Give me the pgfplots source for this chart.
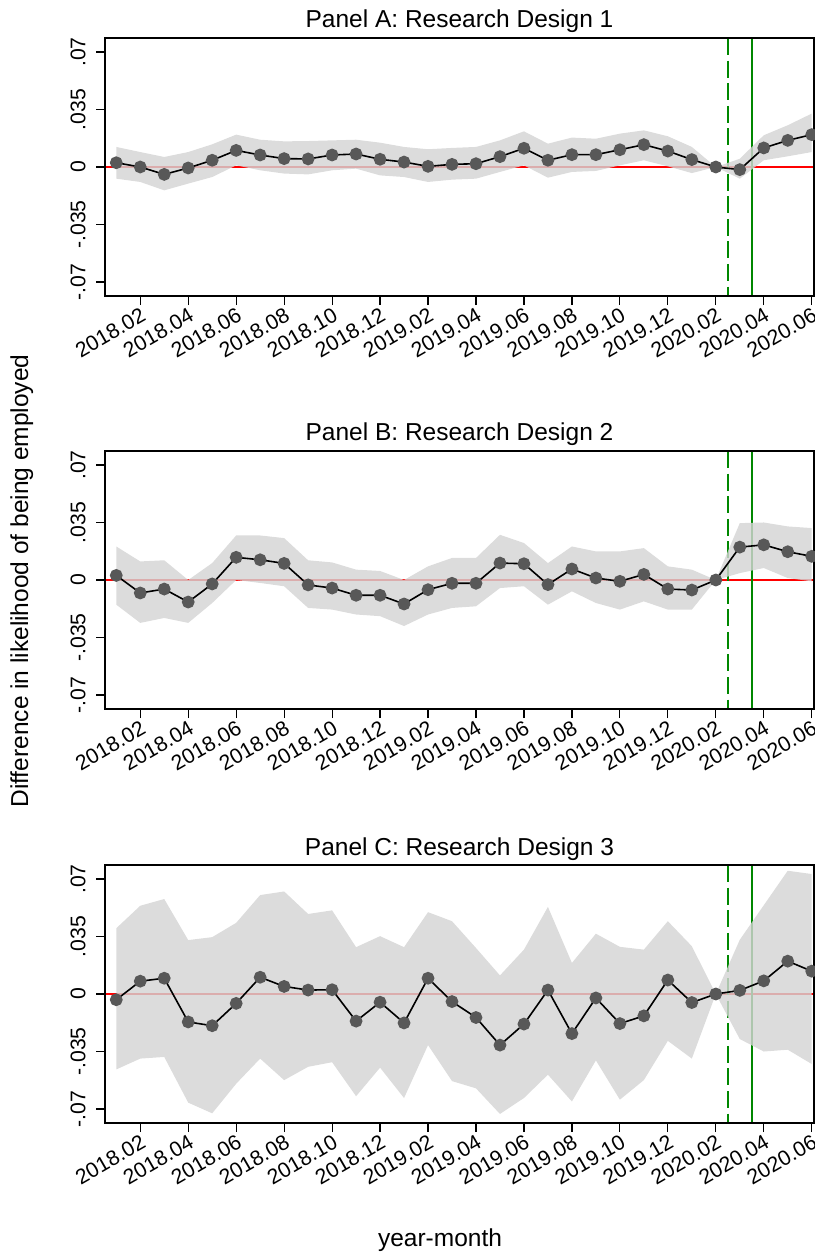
\documentclass[border=0pt]{standalone}
\usepackage{fontspec}
\setmainfont{Liberation Sans}
\usepackage{pgfplots}
\pgfplotsset{compat=1.18}
\usepgfplotslibrary{fillbetween}
\usepackage{pgfplotstable}

\definecolor{bandgray}{RGB}{212,212,212}
\definecolor{markgray}{RGB}{88,88,88}
\definecolor{vgreen}{RGB}{0,135,0}

\pgfplotstableread{
m est lo hi
1 0.0026 -0.0071 0.0122
2 0.0000 -0.0091 0.0091
3 -0.0045 -0.0142 0.0061
4 -0.0006 -0.0101 0.0091
5 0.0041 -0.0061 0.0138
6 0.0101 0.0010 0.0197
7 0.0073 -0.0020 0.0166
8 0.0051 -0.0040 0.0156
9 0.0049 -0.0045 0.0158
10 0.0073 -0.0020 0.0162
11 0.0079 -0.0010 0.0166
12 0.0047 -0.0051 0.0148
13 0.0030 -0.0061 0.0122
14 0.0004 -0.0091 0.0108
15 0.0016 -0.0077 0.0116
16 0.0020 -0.0071 0.0122
17 0.0063 -0.0030 0.0162
18 0.0114 0.0010 0.0217
19 0.0041 -0.0065 0.0142
20 0.0075 -0.0030 0.0179
21 0.0075 -0.0024 0.0172
22 0.0105 0.0010 0.0203
23 0.0136 0.0041 0.0223
24 0.0097 0.0004 0.0187
25 0.0045 -0.0037 0.0122
26 0.0000 0.0000 0.0000
27 -0.0016 -0.0071 0.0050
28 0.0116 0.0041 0.0193
29 0.0162 0.0065 0.0254
30 0.0197 0.0091 0.0325
}\dataA

\pgfplotstableread{
m est lo hi
1 0.0028 -0.0150 0.0204
2 -0.0079 -0.0261 0.0113
3 -0.0055 -0.0231 0.0120
4 -0.0134 -0.0261 0.0000
5 -0.0024 -0.0140 0.0103
6 0.0138 0.0000 0.0271
7 0.0123 -0.0018 0.0271
8 0.0101 -0.0038 0.0255
9 -0.0030 -0.0170 0.0120
10 -0.0049 -0.0180 0.0107
11 -0.0093 -0.0210 0.0063
12 -0.0093 -0.0220 0.0055
13 -0.0146 -0.0280 0.0000
14 -0.0059 -0.0210 0.0083
15 -0.0020 -0.0170 0.0134
16 -0.0020 -0.0160 0.0134
17 0.0103 -0.0049 0.0275
18 0.0099 -0.0038 0.0225
19 -0.0028 -0.0150 0.0103
20 0.0067 -0.0069 0.0204
21 0.0012 -0.0140 0.0174
22 -0.0008 -0.0180 0.0174
23 0.0034 -0.0130 0.0194
24 -0.0055 -0.0180 0.0083
25 -0.0061 -0.0180 0.0063
26 0.0000 0.0000 0.0000
27 0.0200 0.0042 0.0346
28 0.0214 0.0073 0.0350
29 0.0172 0.0012 0.0326
30 0.0144 -0.0008 0.0316
}\dataB

\pgfplotstableread{
m est lo hi
1 -0.0035 -0.0459 0.0400
2 0.0078 -0.0393 0.0537
3 0.0096 -0.0383 0.0578
4 -0.0170 -0.0661 0.0328
5 -0.0193 -0.0726 0.0346
6 -0.0057 -0.0546 0.0433
7 0.0102 -0.0393 0.0602
8 0.0046 -0.0524 0.0624
9 0.0024 -0.0443 0.0487
10 0.0026 -0.0415 0.0509
11 -0.0165 -0.0622 0.0285
12 -0.0050 -0.0448 0.0352
13 -0.0176 -0.0633 0.0285
14 0.0096 -0.0311 0.0498
15 -0.0046 -0.0530 0.0443
16 -0.0143 -0.0574 0.0280
17 -0.0311 -0.0730 0.0113
18 -0.0183 -0.0633 0.0270
19 0.0024 -0.0491 0.0530
20 -0.0241 -0.0654 0.0189
21 -0.0024 -0.0404 0.0367
22 -0.0180 -0.0643 0.0287
23 -0.0133 -0.0524 0.0270
24 0.0085 -0.0285 0.0443
25 -0.0052 -0.0393 0.0291
26 0.0000 0.0000 0.0000
27 0.0022 -0.0274 0.0330
28 0.0080 -0.0350 0.0540
29 0.0200 -0.0339 0.0750
30 0.0139 -0.0426 0.0730
}\dataC

\pgfplotsset{panel/.style={
  set layers,
  scale only axis, width=354.5pt, height=129pt,
  xmin=0.53, xmax=30.095, ymin=-0.0785, ymax=0.0785,
  scaled y ticks=false,
  xtick={2,4,...,30},
  xticklabels={2018.02,2018.04,2018.06,2018.08,2018.10,2018.12,2019.02,2019.04,2019.06,2019.08,2019.10,2019.12,2020.02,2020.04,2020.06},
  ytick={-0.07,-0.035,0,0.035,0.07},
  yticklabels={-.07,-.035,0,.035,.07},
  tick align=outside, tick pos=left, major tick length=4.5pt,
  tick style={black, line width=0.6pt},
  axis line style={line width=0.7pt},
  ticklabel style={font=\fontsize{10.6}{12}\selectfont},
  x tick label style={rotate=30, anchor=north east, inner sep=0.5pt},
  y tick label style={rotate=90, anchor=south, inner sep=0pt},
  yticklabel shift=5pt,
  every axis title shift=0pt,
  title style={font=\fontsize{12.25}{14}\selectfont, anchor=base, yshift=5pt},
}}

\newcommand{\panelcontent}[1]{%
  \addplot[red, line width=1pt, on layer=axis background] coordinates {(0.53,0) (30.095,0)};
  \addplot[vgreen, line width=1pt, dash pattern=on 8.5pt off 2.8pt, on layer=axis background] coordinates {(26.5,0.0785) (26.5,-0.0785)};
  \addplot[vgreen, line width=1pt, on layer=axis background] coordinates {(27.5,0.0785) (27.5,-0.0785)};
  \addplot[draw=none, name path=hi] table[x=m,y=hi]{#1};
  \addplot[draw=none, name path=lo] table[x=m,y=lo]{#1};
  \addplot[fill=bandgray, fill opacity=0.82, draw=none] fill between[of=hi and lo];
  \addplot[black, line width=0.8pt, mark=*, mark size=2.8pt, mark options={fill=markgray, draw=markgray}] table[x=m,y=est]{#1};
}

\begin{document}
\begin{tikzpicture}
\begin{axis}[panel, at={(52.5pt,-148pt)}, title={Panel A: Research Design 1}]
\panelcontent{\dataA}
\end{axis}
\begin{axis}[panel, at={(52.5pt,-354.5pt)}, title={Panel B: Research Design 2}]
\panelcontent{\dataB}
\end{axis}
\begin{axis}[panel, at={(52.5pt,-561.5pt)}, title={Panel C: Research Design 3}]
\panelcontent{\dataC}
\end{axis}
\node[rotate=90, anchor=base, font=\fontsize{12.25}{14}\selectfont] at (14pt,-290.5pt) {Difference in likelihood of being employed};
\node[anchor=base, font=\fontsize{12.25}{14}\selectfont] at (220pt,-623pt) {year-month};
\pgfresetboundingbox
\path[use as bounding box] (0,0) rectangle (407pt,-626.5pt);
\end{tikzpicture}
\end{document}
